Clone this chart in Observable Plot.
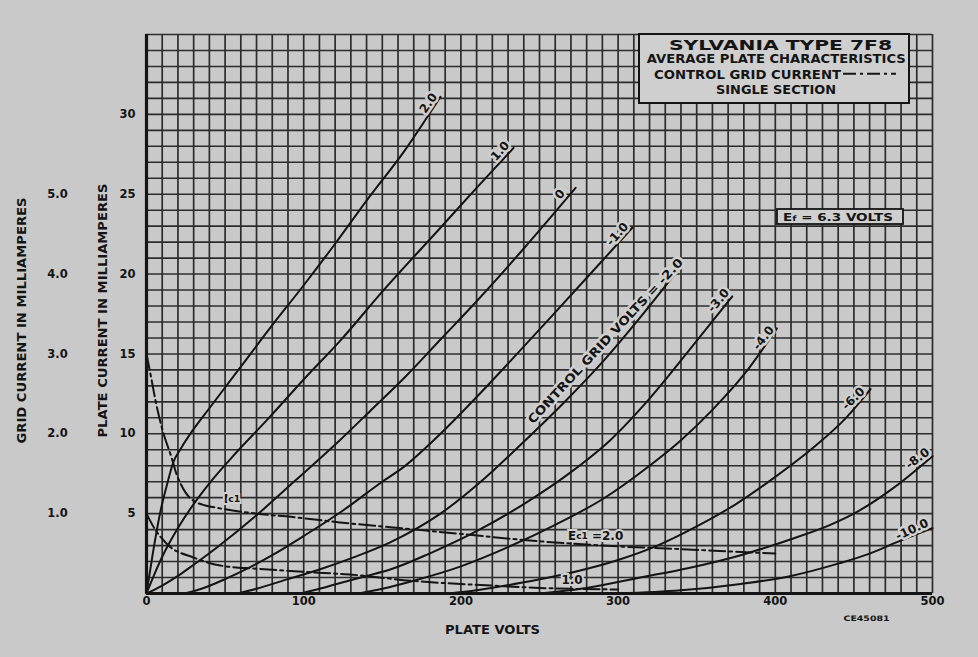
<!DOCTYPE html>
<html><head><meta charset="utf-8">
<script src="https://cdn.jsdelivr.net/npm/d3@7"></script>
<script src="https://cdn.jsdelivr.net/npm/@observablehq/plot@0.6"></script>
<style>
html,body{margin:0;padding:0;background:#c9c9c9;}
#chart{width:978px;height:657px;overflow:hidden;}
</style></head><body><div id="chart"></div>
<script>
// ---- data: plate characteristics, [plate volts, plate mA] per control-grid voltage ----
const egPlus2  = [[0,0],[4,2.5],[9,5.2],[13,6.8],[17,8.2],[22,9.1],[30,10.3],[40,11.6],[60,14.2],[80,16.8],[100,19.3],[120,21.9],[140,24.6],[164,27.7],[187,31.1]];
const egPlus1  = [[0,0],[5,1.2],[10,2.3],[20,4.1],[30,5.6],[40,6.9],[55,8.6],[77,10.9],[100,13.4],[123,15.8],[150,18.9],[187,22.9],[210,25.4],[233.5,27.9]];
const eg0      = [[0,0],[10,0.5],[20,1.1],[30,1.8],[45,2.9],[70,4.9],[95,7.1],[123,9.6],[142,11.4],[165,13.6],[187,15.9],[210,18.3],[240,21.6],[273,25.4]];
const egMinus1 = [[24,0],[35,0.3],[50,0.9],[65,1.6],[80,2.4],[100,3.6],[125,5.2],[150,7.0],[162,7.8],[187,10.0],[210,12.3],[231,14.5],[260,17.6],[285,20.3],[309,22.9]];
const egMinus2 = [[58,0],[70,0.3],[90,0.9],[110,1.5],[130,2.2],[155,3.2],[187,5.0],[215,7.2],[240,9.5],[265,11.9],[291,14.6],[315,17.4],[340,20.5]];
const egMinus3 = [[98,0],[110,0.3],[121,0.6],[140,1.1],[155,1.5],[180,2.5],[210,3.9],[240,5.6],[270,7.6],[295,9.6],[320,12.2],[345,15.2],[372.6,18.6]];
const egMinus4 = [[135,0],[150,0.3],[170,0.8],[200,1.7],[230,2.9],[260,4.3],[290,5.9],[320,8.0],[340,9.6],[360,11.5],[380,13.7],[401,16.6]];
const egMinus6 = [[192,0],[210,0.2],[240,0.7],[270,1.3],[300,2.1],[325,3.0],[350,4.2],[375,5.6],[400,7.3],[425,9.2],[445,11.0],[460.6,12.8]];
const egMinus8 = [[250,0],[280,0.35],[314,1.0],[345,1.6],[378,2.4],[410,3.4],[435,4.3],[450,5.0],[475,6.6],[500,8.6]];
const egMinus10= [[300,0],[340,0.2],[378,0.6],[410,1.1],[441,1.9],[460,2.5],[477,3.2],[500,4.1]];

// control-grid current, [plate volts, grid mA]
const ic1Ec2 = [[0,3.0],[3,2.7],[5.7,2.42],[10,2.06],[16.3,1.68],[19,1.5],[21.6,1.38],[25,1.26],[30,1.16],[36,1.11],[43,1.08],[70,1.0],[92,0.96],[123,0.89],[155,0.83],[198,0.75],[246,0.66],[290,0.6],[335,0.56],[400,0.5]];
const ic1Ec1 = [[0,1.0],[4.6,0.83],[13,0.62],[30,0.45],[47,0.35],[70,0.31],[102,0.27],[134,0.23],[168,0.16],[219,0.10],[250,0.07],[300,0.05]];

// curve labels
const curveLabels = ["2.0","1.0","0","-1.0","CONTROL GRID VOLTS = -2.0","-3.0","-4.0","-6.0","-8.0","-10.0"];
const labelVolts  = [179.4, 225, 263, 299.6, 292, 363.9, 392.5, 449.7, 490.5, 487];
const labelMa     = [30.7, 27.7, 25.0, 22.5, 15.8, 18.35, 16.0, 12.2, 8.45, 4.0];
const labelAngle  = [-55, -48, -48, -48, -47, -50, -52, -44, -37, -25];

// ticks
const plateMaTicks = [5,10,15,20,25,30];
const gridMaTicks  = [1.0,2.0,3.0,4.0,5.0];
const voltTicks    = [0,100,200,300,400,500];
const GRID_RATIO = 5; // 1 mA grid current = 5 mA plate-current divisions

// ---- build tables ----
const plateSeries = [egPlus2, egPlus1, eg0, egMinus1, egMinus2, egMinus3, egMinus4, egMinus6, egMinus8, egMinus10];
const plateRows = plateSeries.flatMap((pts, k) => pts.map(([v, i]) => ({eg: k, v, i})));
const gridRows = [["2.0", ic1Ec2], ["1.0", ic1Ec1]].flatMap(([ec, pts]) => pts.map(([v, ic]) => ({ec, v, ic})));
const labelRows = curveLabels.map((t, k) => ({t, v: labelVolts[k], i: labelMa[k], a: labelAngle[k]}));

const PAPER = "#c9c9c9", HALO = "#cfcfcf", INK = "#141414", GRID = "#2c2c2c";
const FONT = "DejaVu Sans, Liberation Sans, sans-serif";

const chart = Plot.plot({
  width: 978, height: 657,
  marginLeft: 146, marginRight: 46, marginTop: 34, marginBottom: 64,
  x: {domain: [0, 500], axis: null},
  y: {domain: [0, 35], axis: null},
  style: {background: PAPER, fontFamily: FONT, color: INK, overflow: "visible"},
  marks: [
    Plot.ruleX(d3.range(0, 501, 10), {stroke: GRID, strokeWidth: 1.7}),
    Plot.ruleY(d3.range(0, 36, 1), {stroke: GRID, strokeWidth: 1.6}),
    Plot.ruleX([0], {stroke: INK, strokeWidth: 3.2}),
    Plot.ruleY([0], {stroke: INK, strokeWidth: 3.2}),
    Plot.line(plateRows, {x: "v", y: "i", z: "eg", stroke: INK, strokeWidth: 2, curve: "monotone-x"}),
    Plot.line(gridRows, {x: "v", y: d => d.ic * GRID_RATIO, z: "ec", stroke: INK, strokeWidth: 2, strokeDasharray: "16,4,3,4", curve: "monotone-x"}),
    Plot.text(labelRows, {x: "v", y: "i", text: "t", rotate: "a", fontSize: 12, fontWeight: "bold", fill: INK, stroke: HALO, strokeWidth: 5}),
    // tick labels
    Plot.text(plateMaTicks, {y: d => d, text: d => String(d), frameAnchor: "left", dx: -11, textAnchor: "end", fontSize: 11.5, fontWeight: "bold"}),
    Plot.text(gridMaTicks, {y: d => d * GRID_RATIO, text: d => d.toFixed(1), frameAnchor: "left", dx: -89, textAnchor: "middle", fontSize: 11.5, fontWeight: "bold"}),
    Plot.text(voltTicks, {x: d => d, text: d => String(d), frameAnchor: "bottom", dy: 11, textAnchor: "middle", fontSize: 11.5, fontWeight: "bold"}),
    // axis titles
    Plot.text(["PLATE CURRENT IN MILLIAMPERES"], {text: d => d, frameAnchor: "left", dx: -43, dy: -3.5, rotate: -90, textAnchor: "middle", fontSize: 12, fontWeight: "bold"}),
    Plot.text(["GRID CURRENT IN MILLIAMPERES"], {text: d => d, frameAnchor: "left", dx: -124, dy: 6.5, rotate: -90, textAnchor: "middle", fontSize: 12, fontWeight: "bold"}),
    Plot.text(["PLATE VOLTS"], {text: d => d, frameAnchor: "bottom", dx: -47, dy: 40, textAnchor: "middle", fontSize: 11.5, fontWeight: "bold"}),
    Plot.text(["CE45081"], {text: d => d, frameAnchor: "bottom-right", dx: -66, dy: 27, textAnchor: "middle", fontSize: 7.5, fontWeight: "bold"})
  ]
});
document.getElementById("chart").appendChild(chart);

// fit long labels to the widths seen in the reference
const fitLengths = {"PLATE CURRENT IN MILLIAMPERES": 254, "GRID CURRENT IN MILLIAMPERES": 246, "PLATE VOLTS": 95, "CONTROL GRID VOLTS = -2.0": 221, "CE45081": 46};
d3.select(chart).selectAll("text").each(function () {
  const L = fitLengths[this.textContent];
  if (L) d3.select(this).attr("textLength", L).attr("lengthAdjust", "spacingAndGlyphs");
});

// ---- annotations ----
const xs = chart.scale("x"), ys = chart.scale("y");
const svg = d3.select(chart);
const ann = svg.append("g").attr("font-family", FONT).attr("font-weight", "bold").attr("fill", INK);
function addText(str, x, y, size, len, anchor = "middle") {
  const t = ann.append("text").attr("x", x).attr("y", y).attr("font-size", size).attr("text-anchor", anchor).text(str);
  if (len) t.attr("textLength", len).attr("lengthAdjust", "spacingAndGlyphs");
  return t;
}
// title panel
ann.append("rect").attr("x", 639).attr("y", 34).attr("width", 270).attr("height", 69).attr("fill", HALO).attr("stroke", INK).attr("stroke-width", 2);
addText("SYLVANIA TYPE 7F8", 780.5, 49.5, 14.5, 223);
addText("AVERAGE PLATE CHARACTERISTICS", 776.3, 63, 13, 259);
addText("CONTROL GRID CURRENT", 654, 78.8, 13, 187, "start");
ann.append("line").attr("x1", 843).attr("x2", 896).attr("y1", 73.8).attr("y2", 73.8).attr("stroke", INK).attr("stroke-width", 2).attr("stroke-dasharray", "13,4,3,4");
addText("SINGLE SECTION", 776, 93.5, 13, 120);
// heater panel
ann.append("rect").attr("x", 777).attr("y", 209).attr("width", 126).attr("height", 15).attr("fill", HALO).attr("stroke", INK).attr("stroke-width", 1.8);
const ef = ann.append("text").attr("x", 783).attr("y", 221).attr("font-size", 10.5).attr("text-anchor", "start").attr("textLength", 110).attr("lengthAdjust", "spacingAndGlyphs");
ef.append("tspan").text("E");
ef.append("tspan").attr("font-size", 7.5).text("f");
ef.append("tspan").text(" = 6.3 VOLTS");
// grid-current labels, placed through the chart scales
function subLabel(main, sub, rest, v, i, size) {
  const t = ann.append("text").attr("x", xs.apply(v)).attr("y", ys.apply(i)).attr("font-size", size)
    .attr("text-anchor", "middle").attr("dominant-baseline", "middle")
    .attr("stroke", HALO).attr("stroke-width", 4).attr("paint-order", "stroke");
  t.append("tspan").text(main);
  t.append("tspan").attr("font-size", size * 0.75).text(sub);
  if (rest) t.append("tspan").text(rest);
}
subLabel("I", "c1", "", 54.7, 5.9, 12.5);
subLabel("E", "c1", " =2.0", 286, 3.6, 12);
subLabel("1.0", "", "", 271, 0.8, 12);
</script></body></html>
